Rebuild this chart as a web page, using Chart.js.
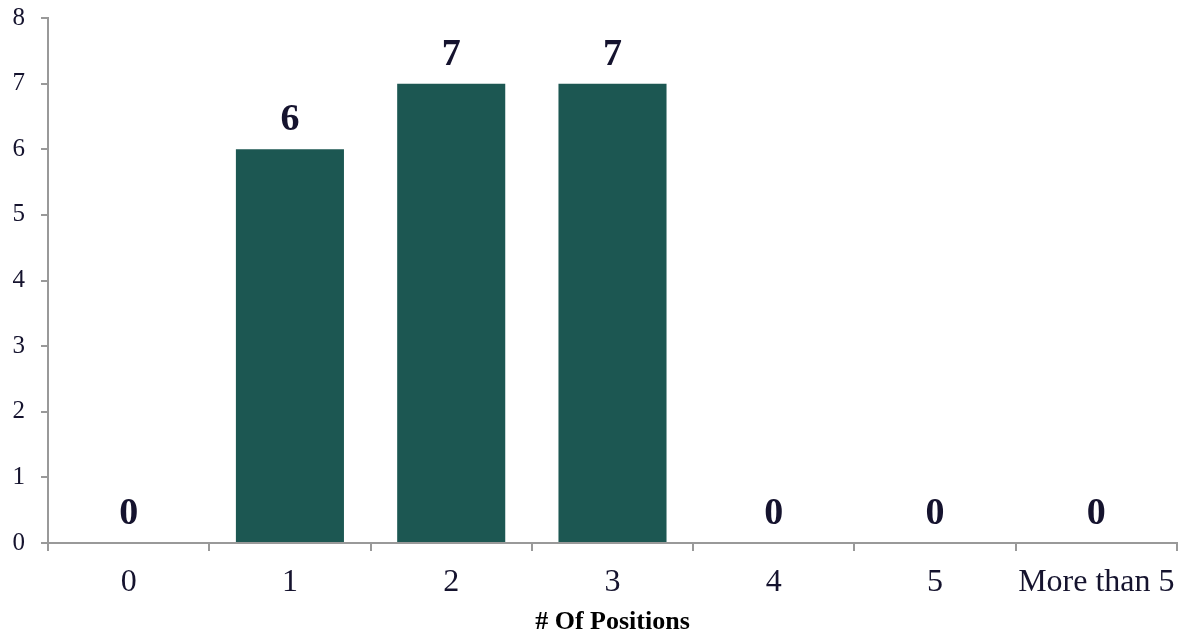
<!DOCTYPE html>
<html>
<head>
<meta charset="utf-8">
<script src="https://cdn.jsdelivr.net/npm/chart.js@4.4.0/dist/chart.umd.min.js"></script>
<style>
  html, body { margin: 0; padding: 0; background: #fff; }
  #wrap { width: 1178px; height: 635px; }
</style>
</head>
<body>
<div id="wrap"><canvas id="barChart" width="1178" height="635"></canvas></div>
<script>
const categories = ['0', '1', '2', '3', '4', '5', 'More than 5'];
const counts = [0, 6, 7, 7, 0, 0, 0];
const yTicks = [0, 1, 2, 3, 4, 5, 6, 7, 8];

const textColor = '#15132e';
const axisColor = '#999999';
const serif = "'Liberation Serif', 'Times New Roman', serif";

// value labels above each bar
const barLabels = {
  id: 'barLabels',
  afterDatasetsDraw(chart) {
    const ctx = chart.ctx;
    const meta = chart.getDatasetMeta(0);
    ctx.save();
    ctx.font = 'bold 38px ' + serif;
    ctx.fillStyle = textColor;
    ctx.textAlign = 'center';
    ctx.textBaseline = 'alphabetic';
    meta.data.forEach((bar, i) => {
      ctx.fillText(String(counts[i]), bar.x, bar.y - 19);
    });
    ctx.restore();
  }
};

new Chart(document.getElementById('barChart'), {
  type: 'bar',
  data: {
    labels: categories,
    datasets: [{
      data: counts,
      backgroundColor: '#1c5752',
      borderWidth: 0,
      categoryPercentage: 1,
      barPercentage: 0.67
    }]
  },
  options: {
    responsive: false,
    animation: false,
    devicePixelRatio: 1,
    layout: { padding: { top: 18, right: 1, left: 0, bottom: 0 } },
    plugins: {
      legend: { display: false },
      tooltip: { enabled: false }
    },
    scales: {
      x: {
        afterFit: (scale) => {
          scale.height = 92;
          scale.paddingLeft = 0;
          scale.paddingRight = 0;
        },
        grid: {
          offset: true,
          drawOnChartArea: false,
          tickLength: 8,
          color: axisColor,
          lineWidth: 2
        },
        border: { color: axisColor, width: 2 },
        ticks: {
          color: textColor,
          padding: 12,
          maxRotation: 0,
          font: { family: serif, size: 32 }
        },
        title: {
          display: true,
          text: '# Of Positions',
          color: '#000000',
          padding: { top: 0, bottom: 0 },
          font: { family: serif, size: 26, weight: 'bold', lineHeight: 1 }
        }
      },
      y: {
        min: 0,
        max: 8,
        afterFit: (scale) => {
          scale.width = 48;
          scale.paddingTop = 0;
          scale.paddingBottom = 0;
        },
        afterBuildTicks: (scale) => { scale.ticks = yTicks.map(v => ({ value: v })); },
        grid: {
          drawOnChartArea: false,
          tickLength: 7,
          color: axisColor,
          lineWidth: 2
        },
        border: { color: axisColor, width: 2 },
        ticks: {
          color: textColor,
          padding: 16,
          font: { family: serif, size: 25 }
        }
      }
    }
  },
  plugins: [barLabels]
});
</script>
</body>
</html>
